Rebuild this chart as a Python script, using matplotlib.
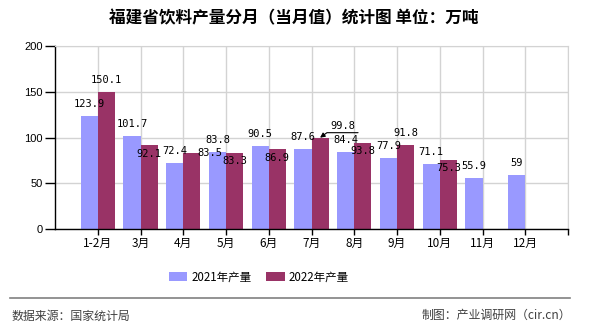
import matplotlib.pyplot as plt
import numpy as np

plt.rcParams['font.family'] = ['Noto Sans CJK SC', 'DejaVu Sans']

months = ['1-2月', '3月', '4月', '5月', '6月', '7月', '8月', '9月', '10月', '11月', '12月']
prod_2021 = [123.9, 101.7, 72.4, 83.8, 90.5, 87.6, 84.4, 77.9, 71.1, 55.9, 59]
prod_2022 = [150.1, 92.1, 83.5, 83.3, 86.9, 99.8, 93.8, 91.8, 75.3, None, None]

# 标签偏移（像素），模仿原图的避让位置
offs_2021 = {}
offs_2022 = {1: (0, -9), 2: (18, 0), 3: (0, -8), 4: (0, -9), 7: (0, 12), 6: (0, -8), 8: (0, -8)}

c2021 = '#9999FF'
c2022 = '#993366'
grid_c = '#D3D3D3'

fig = plt.figure(figsize=(5.9, 3.3), dpi=100)
ax = fig.add_axes([55 / 590, 1 - 229 / 330, 513 / 590, 183 / 330])

x = np.arange(len(months))
w = 0.4
ax.bar(x - w / 2, prod_2021, width=w, color=c2021, label='2021年产量', zorder=2)
x22 = [i for i, v in enumerate(prod_2022) if v is not None]
v22 = [v for v in prod_2022 if v is not None]
ax.bar(np.array(x22) + w / 2, v22, width=w, color=c2022, label='2022年产量', zorder=2)

ax.set_xlim(-1, 11)
ax.set_ylim(0, 200)
ax.set_yticks([0, 50, 100, 150, 200])
ax.set_xticks(list(x) + [11])
ax.set_xticklabels(months + [''])
ax.grid(True, color=grid_c, linewidth=1, zorder=0)
ax.set_axisbelow(True)

for s in ['top', 'right']:
    ax.spines[s].set_color(grid_c)
for s in ['left', 'bottom']:
    ax.spines[s].set_color('black')
    ax.spines[s].set_linewidth(1)

ax.tick_params(axis='y', length=7, width=1, color='black', labelsize=8, pad=2)
ax.tick_params(axis='x', length=4, width=1, color='black', labelsize=8.5, pad=2)
for t in ax.get_yticklabels():
    t.set_fontfamily('Liberation Sans')

mono = 'DejaVu Sans Mono'
for i, v in enumerate(prod_2021):
    dx, dy = offs_2021.get(i, (0, 12))
    ax.annotate(f'{v:g}', xy=(i - w / 2, v), xytext=(dx, dy), textcoords='offset pixels',
                ha='center', va='center', fontsize=7.5, family=mono, zorder=5)

for i, v in zip(x22, v22):
    if i == 5:
        # 7月 带引线的标签
        ax.annotate(f'{v:g}', xy=(i + w / 2, v), xytext=(23, 12), textcoords='offset pixels',
                    ha='center', va='center', fontsize=7.5, family=mono, zorder=5)
        ax.annotate('', xy=(i + w / 2, v), xytext=(38, 5), textcoords='offset pixels',
                    arrowprops=dict(arrowstyle='-|>', color='black', lw=0.8, mutation_scale=7,
                                    shrinkA=0, shrinkB=0,
                                    connectionstyle='angle,angleA=0,angleB=36,rad=0'),
                    zorder=5)
        continue
    dx, dy = offs_2022.get(i, (0, 12))
    ax.annotate(f'{v:g}', xy=(i + w / 2, v), xytext=(dx, dy), textcoords='offset pixels',
                ha='center', va='center', fontsize=7.5, family=mono, zorder=5)

fig.text(294 / 590, 1 - 18 / 330, '福建省饮料产量分月（当月值）统计图 单位：万吨',
         ha='center', va='center', fontsize=12, fontweight='bold')

fig.legend(loc='center', bbox_to_anchor=(259 / 590, 1 - 277 / 330), ncol=2, frameon=False,
           fontsize=8.3, handlelength=1.6, handleheight=0.7, handletextpad=0.35,
           columnspacing=1.3, borderaxespad=0)

fig.add_artist(plt.Line2D([10 / 590, 570 / 590], [1 - 298 / 330, 1 - 298 / 330],
                          color='#808080', linewidth=1.2))
fig.text(12 / 590, 1 - 316 / 330, '数据来源：国家统计局', ha='left', va='center',
         fontsize=8.6, color='#404040')
fig.text(571 / 590, 1 - 315 / 330, '制图：产业调研网（cir.cn）', ha='right', va='center',
         fontsize=8.6, color='#404040')

fig.savefig('out.png', dpi=100)
